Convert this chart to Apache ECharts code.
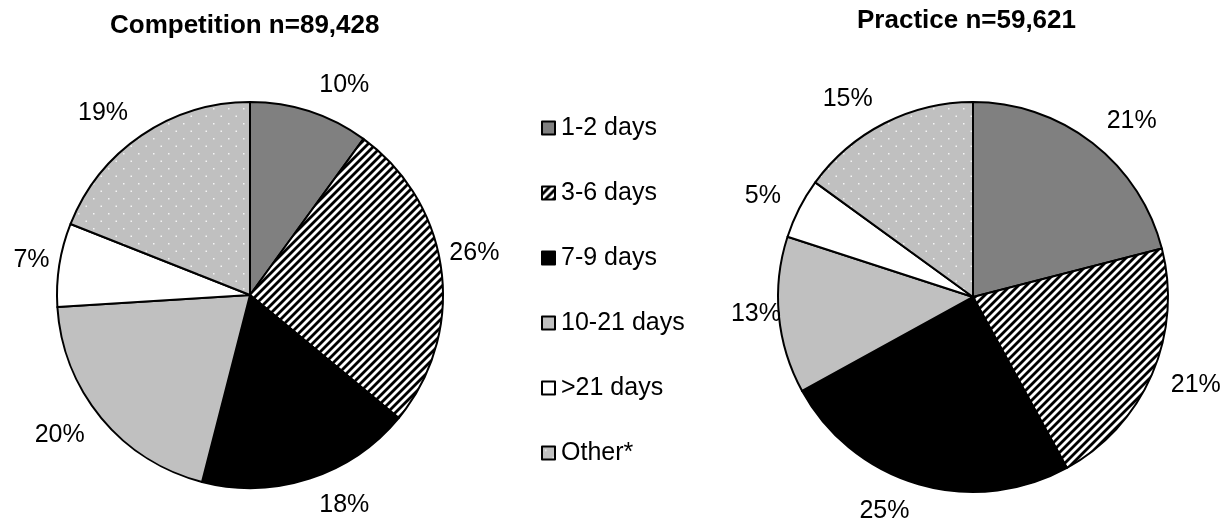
<!DOCTYPE html>
<html>
<head>
<meta charset="utf-8">
<script src="https://cdn.jsdelivr.net/npm/echarts@6/dist/echarts.min.js"></script>
<style>
html,body{margin:0;padding:0;background:#fff;}
#chart{width:1231px;height:521px;}
</style>
</head>
<body>
<div id="chart"></div>
<script>
// ---- data ----
const categories = ['1-2 days', '3-6 days', '7-9 days', '10-21 days', '>21 days', 'Other*'];
const competitionValues = [10, 26, 18, 20, 7, 19];
const practiceValues = [21, 21, 25, 13, 5, 15];
const competitionTitle = 'Competition n=89,428';
const practiceTitle = 'Practice n=59,621';

// ---- label nudges (style, px) for labels Excel moved by "best fit" ----
const competitionNudge = [[0, 0], [-12, -14], [0, 0], [0, 0], [10, 0], [0, 0]];
const practiceNudge = [[0, 0], [0, 0], [0, 0], [22, -4], [0, 0], [0, 0]];

// ---- patterns ----
function stripeTile() {
  const c = document.createElement('canvas');
  c.width = 8; c.height = 8;
  const g = c.getContext('2d');
  g.fillStyle = '#fff'; g.fillRect(0, 0, 8, 8);
  g.strokeStyle = '#000'; g.lineWidth = 2.8;
  for (const off of [-8, 0, 8]) {
    g.beginPath(); g.moveTo(-2 + off, 10); g.lineTo(10 + off, -2); g.stroke();
  }
  return c;
}
function dotTile() {
  const c = document.createElement('canvas');
  c.width = 15; c.height = 15;
  const g = c.getContext('2d');
  g.fillStyle = '#c0c0c0'; g.fillRect(0, 0, 15, 15);
  g.fillStyle = '#f4f4f4';
  g.fillRect(3, 3, 1.5, 1.5);
  g.fillRect(10.5, 10.5, 1.5, 1.5);
  return c;
}
const fills = [
  '#808080',
  { image: stripeTile(), repeat: 'repeat' },
  '#000000',
  '#c0c0c0',
  '#ffffff',
  { image: dotTile(), repeat: 'repeat' }
];

const FONT = '"Liberation Sans", Arial, sans-serif';

function makeData(values) {
  return values.map((v, i) => ({
    name: categories[i],
    value: v,
    itemStyle: { color: fills[i] }
  }));
}

function midAngles(values) {
  const total = values.reduce((a, b) => a + b, 0);
  let acc = 0;
  return values.map(v => { const m = (acc + v / 2) / total * 2 * Math.PI; acc += v; return m; });
}

function pieSeries(values, center, radius, nudge) {
  const mids = midAngles(values);
  return {
    type: 'pie',
    center: center,
    radius: radius,
    startAngle: 90,
    clockwise: true,
    avoidLabelOverlap: false,
    animation: false,
    silent: true,
    itemStyle: { borderColor: '#000', borderWidth: 2 },
    label: {
      show: true,
      position: 'outside',
      formatter: p => p.value + '%',
      fontFamily: FONT,
      fontSize: 25,
      color: '#000',
      distanceToLabelLine: 5
    },
    labelLine: { show: false, length: 15, length2: 0 },
    labelLayout: function (p) {
      const a = mids[p.dataIndex];
      const h = p.labelRect.height;
      const n = nudge[p.dataIndex];
      return { dx: n[0], dy: -Math.cos(a) * h / 2 + n[1] };
    },
    emphasis: { disabled: true },
    data: makeData(values)
  };
}

const chart = echarts.init(document.getElementById('chart'), null, { renderer: 'canvas' });
chart.setOption({
  backgroundColor: '#fff',
  animation: false,
  title: [
    { text: competitionTitle, left: 110, top: 13, padding: 0,
      textStyle: { fontFamily: FONT, fontSize: 26, fontWeight: 'bold', color: '#000' } },
    { text: practiceTitle, left: 857, top: 8, padding: 0,
      textStyle: { fontFamily: FONT, fontSize: 26, fontWeight: 'bold', color: '#000' } }
  ],
  legend: {
    orient: 'vertical',
    left: 541,
    top: 113,
    padding: 0,
    icon: 'rect',
    itemWidth: 13,
    itemHeight: 13,
    itemGap: 35,
    selectedMode: false,
    data: categories,
    itemStyle: { borderColor: '#000', borderWidth: 2 },
    textStyle: { fontFamily: FONT, fontSize: 25, color: '#000', lineHeight: 30, padding: [0, 0, 0, 1] }
  },
  series: [
    pieSeries(competitionValues, [250, 295], 193, competitionNudge),
    pieSeries(practiceValues, [973, 297], 195, practiceNudge)
  ]
});
</script>
</body>
</html>
